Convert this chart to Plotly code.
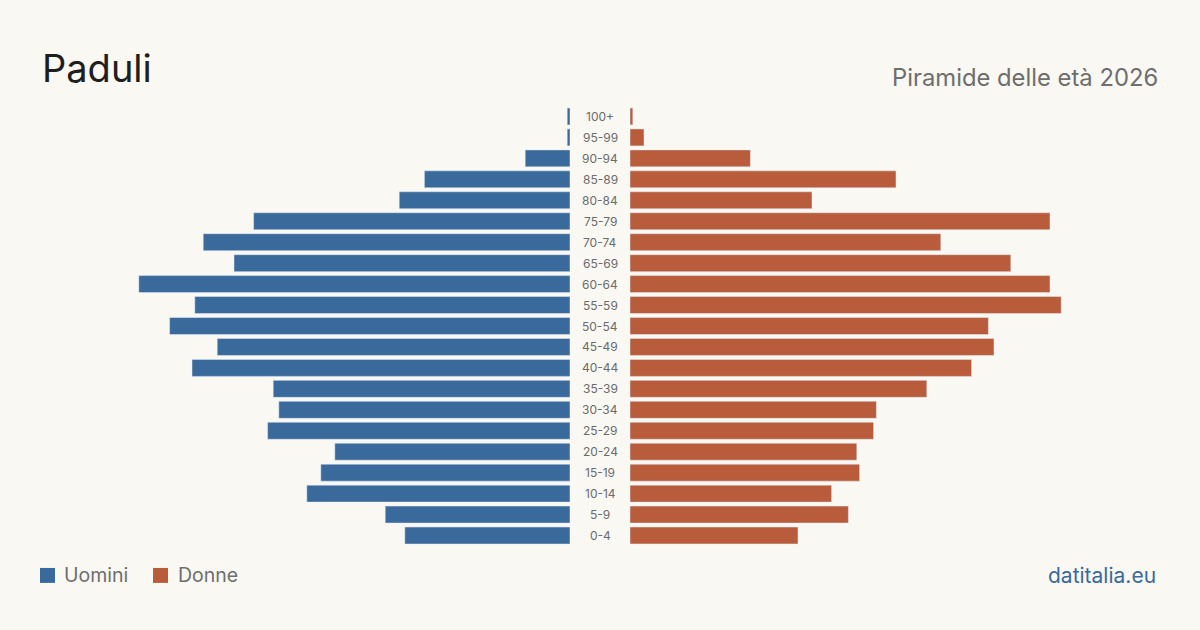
import plotly.graph_objects as go

ages = ["0-4", "5-9", "10-14", "15-19", "20-24", "25-29", "30-34", "35-39", "40-44",
        "45-49", "50-54", "55-59", "60-64", "65-69", "70-74", "75-79", "80-84",
        "85-89", "90-94", "95-99", "100+"]
uomini = [59, 66, 94, 89, 84, 108, 104, 106, 135, 126, 143, 134, 154, 120, 131, 113,
          61, 52, 16, 1, 1]
donne = [60, 78, 72, 82, 81, 87, 88, 106, 122, 130, 128, 154, 150, 136, 111, 150,
         65, 95, 43, 5, 1]

BLUE = "#3a6a9b"
ORANGE = "#b85c3c"
BG = "#f9f8f3"
FONT = "Inter"

W, H = 1200, 630
xmax = 530 / 2.8
top = 105.5
bottom = 546.5


def py(ypx):
    return (bottom - ypx) / (bottom - top)


fig = go.Figure()
fig.add_trace(go.Bar(y=ages, x=uomini, orientation="h", marker_color=BLUE,
                     xaxis="x", yaxis="y", name="Uomini", showlegend=False,
                     hoverinfo="x+y"))
fig.add_trace(go.Bar(y=ages, x=donne, orientation="h", marker_color=ORANGE,
                     xaxis="x2", yaxis="y", name="Donne", showlegend=False,
                     hoverinfo="x+y"))

annotations = []
for a in ages:
    annotations.append(dict(x=0.5, xref="paper", y=a, yref="y", text=a,
                            showarrow=False, xanchor="center", yanchor="middle",
                            font=dict(family=FONT, size=12, color="#6b6b6b")))

annotations += [
    dict(x=40 / W, y=py(67), xref="paper", yref="paper", text="Paduli",
         showarrow=False, xanchor="left", yanchor="middle",
         font=dict(family=FONT, size=38, color="#1e1e1e")),
    dict(x=1160 / W, y=py(77), xref="paper", yref="paper",
         text="Piramide delle età 2026", showarrow=False, xanchor="right",
         yanchor="middle", font=dict(family=FONT, size=23.8, color="#6e6e6e")),
    dict(x=62 / W, y=py(576), xref="paper", yref="paper", text="Uomini",
         showarrow=False, xanchor="left", yanchor="middle",
         font=dict(family=FONT, size=19.5, color="#6e6e6e")),
    dict(x=176 / W, y=py(576), xref="paper", yref="paper", text="Donne",
         showarrow=False, xanchor="left", yanchor="middle",
         font=dict(family=FONT, size=19.5, color="#6e6e6e")),
    dict(x=1158 / W, y=py(576), xref="paper", yref="paper", text="datitalia.eu",
         showarrow=False, xanchor="right", yanchor="middle",
         font=dict(family=FONT, size=21, color=BLUE)),
]

shapes = [
    dict(type="rect", xref="paper", yref="paper", x0=40 / W, x1=55 / W,
         y0=py(583.5), y1=py(568.5), fillcolor=BLUE, line_width=0),
    dict(type="rect", xref="paper", yref="paper", x0=153 / W, x1=168 / W,
         y0=py(583.5), y1=py(568.5), fillcolor=ORANGE, line_width=0),
]

fig.update_layout(
    width=W, height=H,
    paper_bgcolor=BG, plot_bgcolor=BG,
    margin=dict(l=0, r=0, t=top, b=H - bottom),
    bargap=0.19,
    xaxis=dict(domain=[40 / W, 570 / W], range=[xmax, 0], visible=False,
               fixedrange=True),
    xaxis2=dict(domain=[630 / W, 1160 / W], range=[0, xmax], visible=False,
                fixedrange=True),
    yaxis=dict(categoryorder="array", categoryarray=ages, visible=False,
               range=[-0.5, len(ages) - 0.5], fixedrange=True),
    annotations=annotations,
    shapes=shapes,
    showlegend=False,
)

fig.write_html("out.html")
